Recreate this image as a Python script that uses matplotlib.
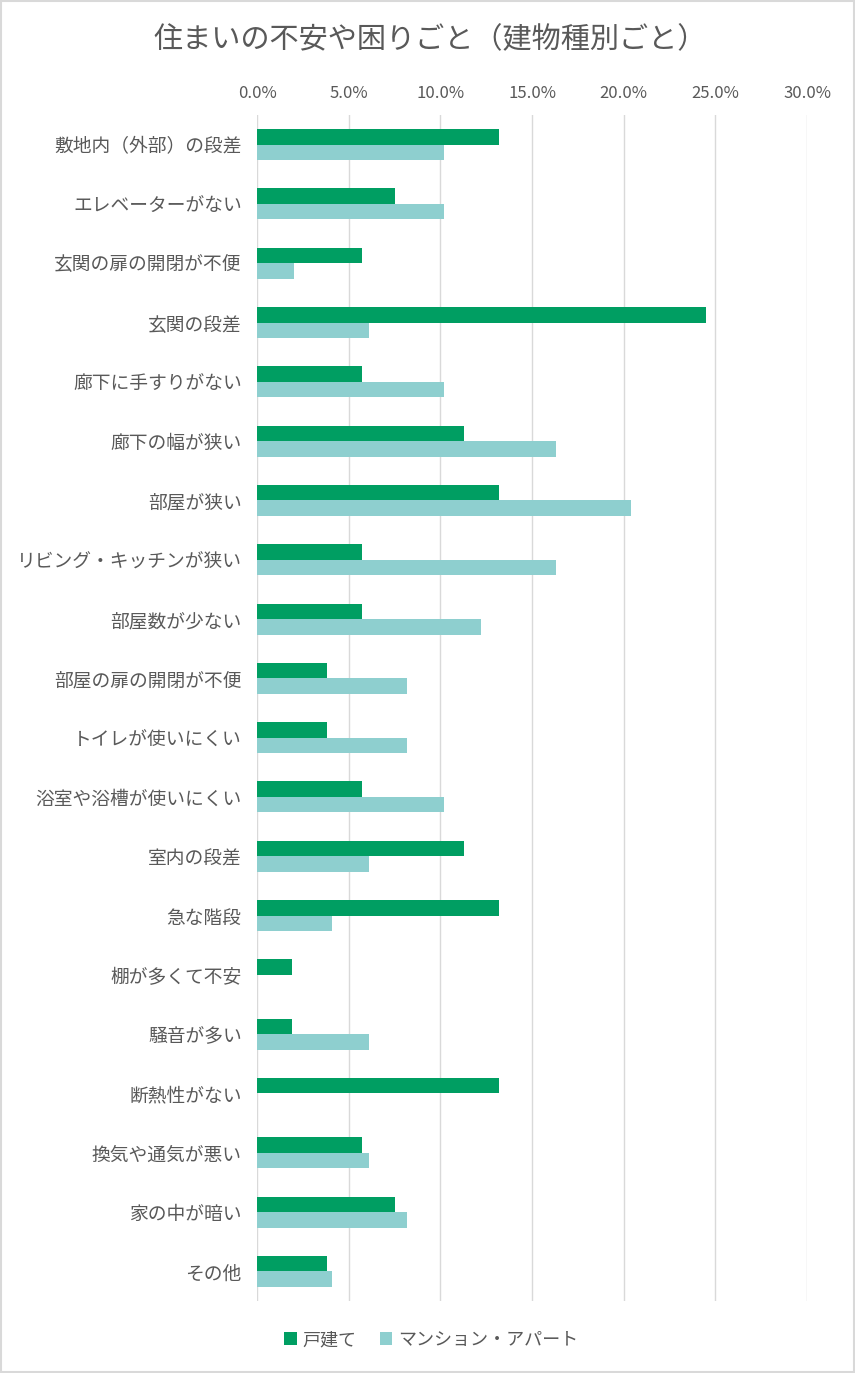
import numpy as np
import matplotlib.pyplot as plt
from matplotlib.patches import Rectangle

plt.rcParams['font.family'] = ['Noto Sans CJK JP', 'DejaVu Sans']

categories = ['敷地内（外部）の段差', 'エレベーターがない', '玄関の扉の開閉が不便', '玄関の段差',
              '廊下に手すりがない', '廊下の幅が狭い', '部屋が狭い', 'リビング・キッチンが狭い',
              '部屋数が少ない', '部屋の扉の開閉が不便', 'トイレが使いにくい', '浴室や浴槽が使いにくい',
              '室内の段差', '急な階段', '棚が多くて不安', '騒音が多い', '断熱性がない',
              '換気や通気が悪い', '家の中が暗い', 'その他']

# percentages
kodate = [13.2, 7.5, 5.7, 24.5, 5.7, 11.3, 13.2, 5.7, 5.7, 3.8,
          3.8, 5.7, 11.3, 13.2, 1.9, 1.9, 13.2, 5.7, 7.5, 3.8]
mansion = [10.2, 10.2, 2.0, 6.1, 10.2, 16.3, 20.4, 16.3, 12.2, 8.2,
           8.2, 10.2, 6.1, 4.1, 0.0, 6.1, 0.0, 6.1, 8.2, 4.1]

series_names = ['戸建て', 'マンション・アパート']
xticks = [0, 5, 10, 15, 20, 25, 30]

dark = '#009E62'
light = '#8ECFCF'
txt = '#595959'

W, H = 855, 1373
fig = plt.figure(figsize=(W / 100, H / 100), dpi=100)
ax = fig.add_axes([257 / W, 1 - 1301 / H, (807 - 257) / W, (1301 - 115) / H])

y = np.arange(len(categories))
h = 0.262
ax.barh(y - h / 2, kodate, height=h, color=dark, label=series_names[0], zorder=3)
ax.barh(y + h / 2, mansion, height=h, color=light, label=series_names[1], zorder=3)

ax.set_ylim(len(categories) - 0.5, -0.5)
ax.set_xlim(0, 30)
ax.set_yticks(y)
ax.set_yticklabels(categories, fontsize=13.5, color=txt)
ax.set_xticks(xticks)
ax.set_xticklabels(['%.1f%%' % v for v in xticks], fontsize=12, color=txt)
ax.xaxis.tick_top()
ax.tick_params(axis='x', length=0, pad=9)
ax.tick_params(axis='y', length=0, pad=11)
for s in ax.spines.values():
    s.set_visible(False)
ax.grid(axis='x', color='#D9D9D9', linewidth=1, zorder=0)
ax.set_axisbelow(True)

fig.text(430 / W, 1 - 40 / H, '住まいの不安や困りごと（建物種別ごと）', ha='center', va='center',
         fontsize=21, color=txt)

leg = fig.legend(loc='center', bbox_to_anchor=(431 / W, 1 - 1340 / H), ncol=2, frameon=False,
                 fontsize=13, handlelength=0.7, handleheight=0.7, handletextpad=0.3,
                 columnspacing=1.3)
for t in leg.get_texts():
    t.set_color(txt)

fig.patches.append(Rectangle((0.001, 0.001), 0.998, 0.998, transform=fig.transFigure,
                             fill=False, edgecolor='#D9D9D9', linewidth=1.5))

fig.savefig('out.png', dpi=100)
